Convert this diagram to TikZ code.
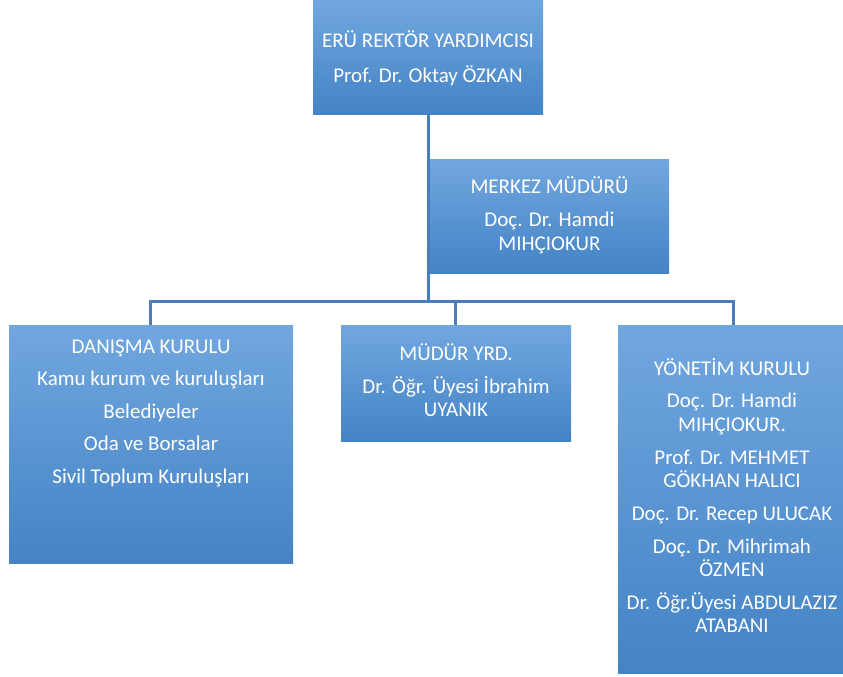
\documentclass[tikz,border=0pt]{standalone}
\usepackage{fontspec}
\setmainfont{Carlito}
\definecolor{boxtop}{HTML}{71A7DF}
\definecolor{boxbot}{HTML}{4483C5}
\definecolor{linec}{HTML}{4A7EBB}
\tikzset{
  box/.style={rectangle, draw=none, top color=boxtop, bottom color=boxbot,
    anchor=north west, inner sep=0pt, outer sep=0pt},
  conn/.style={draw=linec, line width=2.8pt},
  lbl/.style={text=white, font=\fontsize{21}{23.5}\selectfont, align=center,
    anchor=base, inner sep=0pt}
}
\begin{document}
\begin{tikzpicture}[x=1pt,y=-1pt]
\useasboundingbox (0,0) rectangle (843,677);
% boxes
\node[box, minimum width=230pt, minimum height=114pt] (rek) at (313,0) {};
\node[box, minimum width=239pt, minimum height=114pt] (mer) at (430,159) {};
\node[box, minimum width=284pt, minimum height=238pt] (dan) at (9,325) {};
\node[box, minimum width=230pt, minimum height=116pt] (yrd) at (341,325) {};
\node[box, minimum width=225pt, minimum height=348pt] (yon) at (618,325) {};
% connectors
\coordinate (bus) at (428.5,301.5);
\coordinate (dtop) at (150.5,325);
\coordinate (ytop) at (733.5,325);
\coordinate (mtop) at (455.5,325);
\draw[conn] (rek.south -| bus) -- (bus);
\draw[conn] (dtop) |- (bus) -| (ytop);
\draw[conn] (mtop) -- (mtop |- bus);
% texts (anchored at the baseline of the last line)
\node[lbl] (trek) at (428,82) {ERÜ REKTÖR YARDIMCISI\\[11.5pt]Prof. Dr. Oktay ÖZKAN};
\node[lbl] (tmer) at (549.5,250) {MERKEZ MÜDÜRÜ\\[9.2pt]Doç. Dr. Hamdi\\MIHÇIOKUR};
\node[lbl] (tdan) at (151,483) {DANIŞMA KURULU\\[9pt]Kamu kurum ve kuruluşları\\[9pt]Belediyeler\\[9pt]Oda ve Borsalar\\[9pt]Sivil Toplum Kuruluşları};
\node[lbl] (tyrd) at (456,416.7) {MÜDÜR YRD.\\[9pt]Dr. Öğr. Üyesi İbrahim\\UYANIK};
\node[lbl] (tyon) at (732,632.7) {YÖNETİM KURULU\\[9.2pt]Doç. Dr. Hamdi\\MIHÇIOKUR.\\[9.2pt]Prof. Dr. MEHMET\\GÖKHAN HALICI\\[9.2pt]Doç. Dr. Recep ULUCAK\\[9.2pt]Doç. Dr. Mihrimah\\ÖZMEN\\[9.2pt]Dr. Öğr.Üyesi ABDULAZIZ\\ATABANI};
\end{tikzpicture}
\end{document}
